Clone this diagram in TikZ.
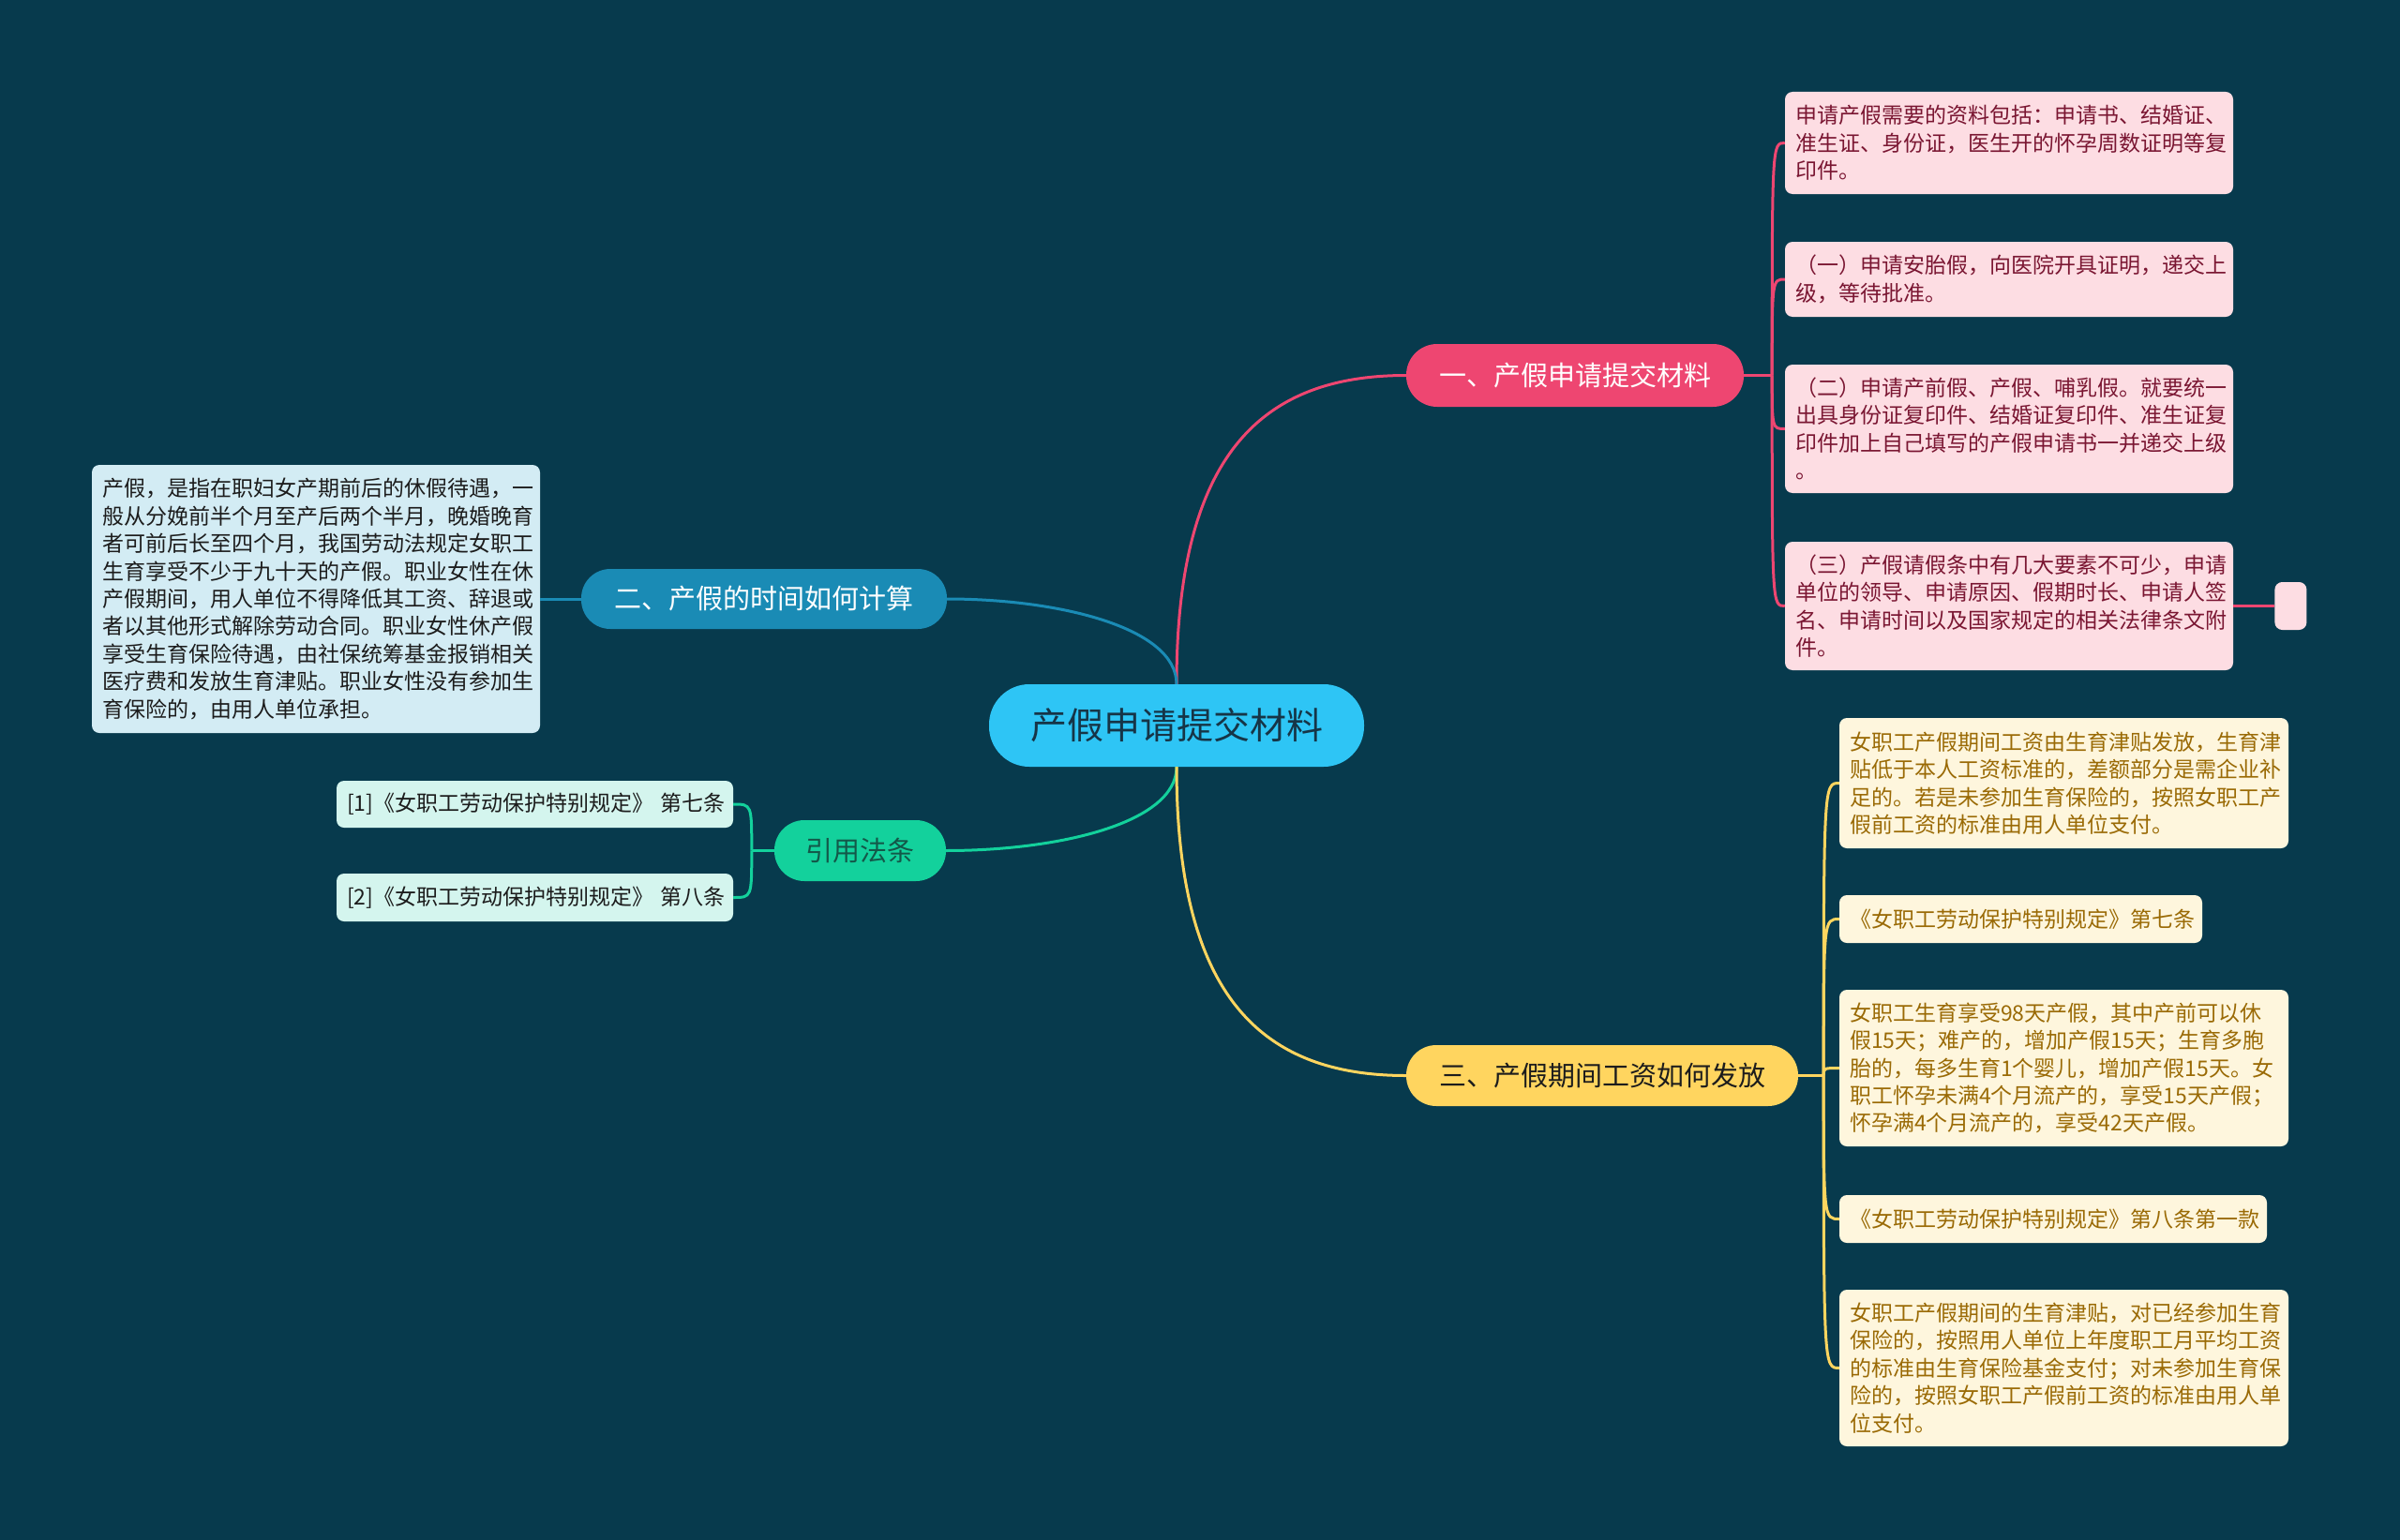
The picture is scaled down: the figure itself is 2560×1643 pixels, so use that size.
\documentclass[tikz,border=0pt]{standalone}
\usepackage{fontspec}
\setmainfont{Noto Sans CJK SC}
\usetikzlibrary{positioning}
\definecolor{mm-bg}{HTML}{073A4D}
\definecolor{mm-root}{HTML}{2EC5F5}
\definecolor{mm-roottext}{HTML}{163547}
\definecolor{mm-red}{HTML}{EE4671}
\definecolor{mm-redfill}{HTML}{FDDDE3}
\definecolor{mm-redtext}{HTML}{7A1632}
\definecolor{mm-blue}{HTML}{1A8BB5}
\definecolor{mm-bluefill}{HTML}{D3ECF4}
\definecolor{mm-green}{HTML}{13D19C}
\definecolor{mm-greenfill}{HTML}{D4F5EE}
\definecolor{mm-greentext}{HTML}{135849}
\definecolor{mm-yellow}{HTML}{FFD55F}
\definecolor{mm-yellowfill}{HTML}{FEF6DD}
\definecolor{mm-yellowtext}{HTML}{9A6A05}
\definecolor{mm-dark}{HTML}{1C1C1C}
\newcommand{\leaffont}{\fontsize{23pt}{29.4pt}\selectfont}
\newcommand{\branchfont}{\fontsize{29pt}{34pt}\selectfont}
\newcommand{\rootfont}{\fontsize{39pt}{44pt}\selectfont}

\begin{document}
\begin{tikzpicture}[x=1pt, y=-1pt,
    leaf/.style={rectangle, rounded corners=8pt, inner xsep=11pt, inner ysep=0pt,
      align=left, text width=456pt, font=\leaffont},
    pleaf/.style={leaf, fill=mm-redfill, text=mm-redtext},
    bleaf/.style={leaf, fill=mm-bluefill, text=mm-dark},
    gleaf/.style={leaf, fill=mm-greenfill, text=mm-dark},
    yleaf/.style={leaf, fill=mm-yellowfill, text=mm-yellowtext},
    branch/.style={rectangle, inner sep=0pt, font=\branchfont},
    redline/.style={draw=mm-red, line width=3pt},
    blueline/.style={draw=mm-blue, line width=3pt},
    greenline/.style={draw=mm-green, line width=3pt},
    yellowline/.style={draw=mm-yellow, line width=3pt}]
    \useasboundingbox[fill=mm-bg] (0,0) rectangle (2560,1643);

    % Root
    \node[rectangle, rounded corners=43pt, fill=mm-root, text=mm-roottext, font=\rootfont,
      minimum width=400pt, minimum height=88pt, inner sep=0pt] (root) at (1255,774) {产假申请提交材料};

    % Branches
    \node[branch, rounded corners=33pt, fill=mm-red, text=white,
      minimum width=360pt, minimum height=67pt] (b1) at (1680,400.5) {一、产假申请提交材料};
    \node[branch, rounded corners=31pt, fill=mm-blue, text=white,
      minimum width=390pt, minimum height=64pt] (b2) at (815,639) {二、产假的时间如何计算};
    \node[branch, rounded corners=32pt, fill=mm-green, text=mm-greentext,
      minimum width=183pt, minimum height=65pt] (b3) at (917.5,907.5) {引用法条};
    \node[branch, rounded corners=32pt, fill=mm-yellow, text=mm-dark,
      minimum width=418pt, minimum height=65pt] (b4) at (1709,1147.5) {三、产假期间工资如何发放};

    % Leaves of branch one
    \node[pleaf, minimum height=109pt] (p1) at (2143,152.5)
      {申请产假需要的资料包括：申请书、结婚证、\\准生证、身份证，医生开的怀孕周数证明等复\\印件。};
    \node[pleaf, minimum height=80pt] (p2) at (2143,298)
      {（一）申请安胎假，向医院开具证明，递交上\\级，等待批准。};
    \node[pleaf, minimum height=137pt] (p3) at (2143,457.5)
      {（二）申请产前假、产假、哺乳假。就要统一\\出具身份证复印件、结婚证复印件、准生证复\\印件加上自己填写的产假申请书一并递交上级\\。};
    \node[pleaf, minimum height=137pt] (p4) at (2143,646.5)
      {（三）产假请假条中有几大要素不可少，申请\\单位的领导、申请原因、假期时长、申请人签\\名、申请时间以及国家规定的相关法律条文附\\件。};
    \node[rectangle, rounded corners=8pt, fill=mm-redfill, minimum width=34pt,
      minimum height=51pt, right=44pt of p4] (p5) {};

    % Leaf of branch two
    \node[bleaf, minimum height=286pt] (q1) at (337,639)
      {产假，是指在职妇女产期前后的休假待遇，一\\般从分娩前半个月至产后两个半月，晚婚晚育\\者可前后长至四个月，我国劳动法规定女职工\\生育享受不少于九十天的产假。职业女性在休\\产假期间，用人单位不得降低其工资、辞退或\\者以其他形式解除劳动合同。职业女性休产假\\享受生育保险待遇，由社保统筹基金报销相关\\医疗费和发放生育津贴。职业女性没有参加生\\育保险的，由用人单位承担。};

    % Leaves of the law branch
    \node[gleaf, text width=401pt, minimum height=50pt] (g1) at (570.5,858)
      {[1]《女职工劳动保护特别规定》~第七条};
    \node[gleaf, text width=401pt, minimum height=51pt] (g2) at (570.5,957.5)
      {[2]《女职工劳动保护特别规定》~第八条};

    % Leaves of branch three
    \node[yleaf, text width=457pt, minimum height=139pt] (y1) at (2201.5,835.5)
      {女职工产假期间工资由生育津贴发放，生育津\\贴低于本人工资标准的，差额部分是需企业补\\足的。若是未参加生育保险的，按照女职工产\\假前工资的标准由用人单位支付。};
    \node[yleaf, text width=365pt, minimum height=51pt] (y2) at (2155.5,980.5)
      {《女职工劳动保护特别规定》第七条};
    \node[yleaf, text width=457pt, minimum height=167pt] (y3) at (2201.5,1139.5)
      {女职工生育享受98天产假，其中产前可以休\\假15天；难产的，增加产假15天；生育多胞\\胎的，每多生育1个婴儿，增加产假15天。女\\职工怀孕未满4个月流产的，享受15天产假；\\怀孕满4个月流产的，享受42天产假。};
    \node[yleaf, text width=434pt, minimum height=51pt] (y4) at (2190,1300.5)
      {《女职工劳动保护特别规定》第八条第一款};
    \node[yleaf, text width=457pt, minimum height=167pt] (y5) at (2201.5,1459.5)
      {女职工产假期间的生育津贴，对已经参加生育\\保险的，按照用人单位上年度职工月平均工资\\的标准由生育保险基金支付；对未参加生育保\\险的，按照女职工产假前工资的标准由用人单\\位支付。};

    % Root to branches
    \draw[redline] (root.north) .. controls +(0,-250) and +(-150,0) .. (b1.west);
    \draw[blueline] (root.north) .. controls +(0,-60) and +(120,0) .. (b2.east);
    \draw[greenline] (root.south) .. controls +(0,60) and +(120,0) .. (b3.east);
    \draw[yellowline] (root.south) .. controls +(0,250) and +(-150,0) .. (b4.west);

    % Branches to leaves
    \coordinate (j1) at ([xshift=30pt]b1.east);
    \coordinate (j3) at ([xshift=-24pt]b3.west);
    \coordinate (j4) at ([xshift=27pt]b4.east);
    \draw[redline] (b1.east) -- (j1);
    \foreach \n in {p1,p2,p3,p4}
      \draw[redline] (j1) .. controls (j1 |- \n.west) .. (\n.west);
    \draw[redline] (p4.east) -- (p5.west);
    \draw[blueline] (b2.west) -- (q1.east);
    \draw[greenline] (b3.west) -- (j3);
    \foreach \n in {g1,g2}
      \draw[greenline] (j3) .. controls (j3 |- \n.east) .. (\n.east);
    \draw[yellowline] (b4.east) -- (j4);
    \foreach \n in {y1,y2,y3,y4,y5}
      \draw[yellowline] (j4) .. controls (j4 |- \n.west) .. (\n.west);
\end{tikzpicture}
\end{document}
